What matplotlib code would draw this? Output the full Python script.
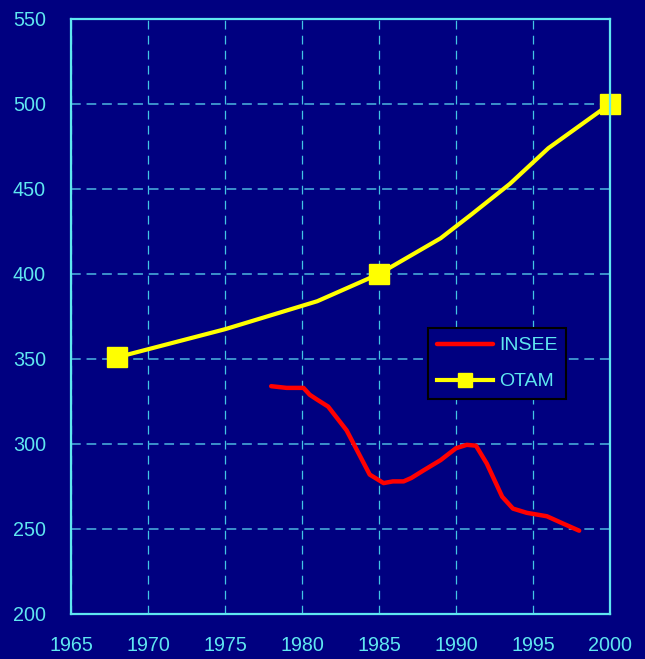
import matplotlib.pyplot as plt

# Series
insee_years = [1978, 1979, 1980.1, 1980.5, 1981, 1981.7, 1982.9, 1984.4, 1985.3, 1985.9,
               1986.6, 1987.1, 1987.9, 1989, 1990, 1990.7, 1991.3, 1992, 1993, 1993.7,
               1994.6, 1995.9, 1997, 1998]
insee_values = [334, 333, 333, 329, 326, 322, 308, 282, 277, 278,
                278, 280, 284.5, 290.5, 297.5, 299.5, 299, 288.5, 269, 262,
                259.5, 257.5, 253, 249]

otam_years = [1968, 1975, 1981, 1985, 1989, 1991, 1993.5, 1996, 2000]
otam_values = [351, 367.5, 384, 400, 421, 435, 453, 474, 500]
otam_marked = [0, 3, 8]

x_ticks = [1965, 1970, 1975, 1980, 1985, 1990, 1995, 2000]
y_ticks = [200, 250, 300, 350, 400, 450, 500, 550]

NAVY = "#000080"
CYAN = "#5fe6f0"
HGRID = "#3c90cc"
VGRID = "#42c4e4"

plt.rcParams['font.family'] = ['Liberation Sans', 'DejaVu Sans']

fig = plt.figure(figsize=(6.45, 6.59), dpi=100, facecolor=NAVY)
ax = fig.add_axes([0.110, 0.0683, 0.8357, 0.9029], facecolor=NAVY)

ax.plot(insee_years, insee_values, color="#ff0000", linewidth=3.2, label="INSEE",
        solid_capstyle="round", solid_joinstyle="round", zorder=3)
ax.plot(otam_years, otam_values, color="#ffff00", linewidth=3.0, marker="s",
        markersize=14, markevery=otam_marked, label="OTAM", zorder=4,
        solid_joinstyle="round", clip_on=False)

ax.set_xlim(1965, 2000)
ax.set_ylim(200, 550)
ax.set_xticks(x_ticks)
ax.set_yticks(y_ticks)

ax.xaxis.grid(True, color=VGRID, linestyle=(0, (7, 5)), linewidth=0.9)
ax.yaxis.grid(True, color=HGRID, linestyle=(0, (5, 3)), linewidth=1.4)
ax.set_axisbelow(True)

for spine in ax.spines.values():
    spine.set_color(CYAN)
    spine.set_linewidth(1.6)
    spine.set_zorder(5)

ax.tick_params(axis="both", length=0, colors=CYAN, labelsize=14.2)
ax.tick_params(axis="y", pad=18)
ax.tick_params(axis="x", pad=16)

leg = ax.legend(loc="lower left", bbox_to_anchor=(0.662, 0.361), fontsize=14,
                facecolor=NAVY, edgecolor="black", framealpha=1, fancybox=False,
                handlelength=2.9, borderpad=0.45, labelspacing=0.95, handletextpad=0.3,
                borderaxespad=0, markerscale=0.75)
leg.get_frame().set_linewidth(1.5)
for t in leg.get_texts():
    t.set_color(CYAN)

fig.savefig("out.png", dpi=100, facecolor=NAVY)
